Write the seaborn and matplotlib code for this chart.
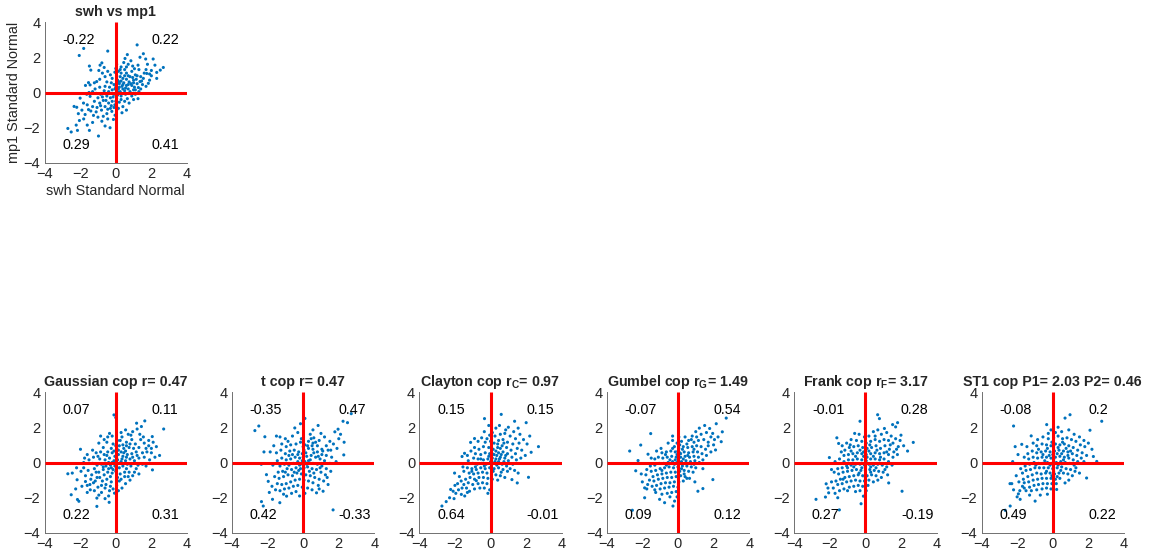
import numpy as np
import matplotlib
matplotlib.use("Agg")
import matplotlib.pyplot as plt
import seaborn as sns

# ---------------------------------------------------------------- data
# standard-normal scores (x, y) for the observed pair and each fitted copula
obs_swh_mp1 = [
    (1.2, 2.7), (-1.8, 2.5), (-0.45, 2.35), (1.55, 2.2), (-2.05, 2.1), (1.68, 1.9), (1.36, 2.0), (0.65, 2.15),
    (0.52, 1.93), (0.05, 1.6), (0.0, 1.36), (-0.78, 1.68), (-0.88, 1.55), (-0.65, 1.42), (2.1, 1.9), (1.78, 1.6),
    (2.67, 1.42), (2.5, 1.27), (2.3, 1.14), (2.0, 0.95), (1.74, 1.08), (1.55, 0.8), (1.36, 0.62), (1.83, 0.52),
    (1.27, 0.28), (1.0, 0.15), (-1.48, 1.5), (-1.4, 1.27), (-1.53, 0.56), (-1.44, 0.43), (-1.07, 0.62), (-1.16, 0.2),
    (-1.63, -0.1), (-1.44, -0.22), (-2.0, -0.32), (-2.34, -0.79), (-2.19, -0.84), (-1.81, -0.6), (-1.53, -0.97),
    (-1.72, -1.25), (-2.04, -1.59), (-2.22, -1.85), (-2.5, -2.24), (-2.69, -2.04), (-2.15, -2.15), (-1.6, -1.85),
    (-1.48, -2.15), (-0.97, -2.47), (-0.32, -2.0), (-0.78, -1.63), (-0.13, -1.53), (-0.04, -1.29), (-0.22, -1.07),
    (0.2, 0.5), (0.4, 0.8), (0.6, 0.4), (0.8, 0.9), (1.0, 0.7), (0.3, 1.1), (0.5, 1.3), (0.9, 1.2), (1.1, 1.0),
    (1.3, 1.3), (0.7, 0.2), (0.5, 0.1), (0.15, 0.2), (0.35, 0.35), (0.75, 0.6), (1.2, 0.5), (1.4, 0.9), (1.6, 1.1),
    (0.9, 0.4), (0.6, 0.75), (0.25, 0.9), (0.1, 0.7), (0.45, 0.55), (1.05, 0.3), (0.8, 0.05), (1.5, 0.45),
    (1.15, 0.75), (0.95, 1.5), (0.7, 1.6), (0.3, 1.45), (0.15, 1.2), (1.25, 1.55), (1.7, 1.3), (2.2, 1.55),
    (1.9, 0.7), (0.55, -0.1), (0.3, -0.2), (0.65, -0.35), (0.9, -0.2), (1.1, -0.1), (1.3, 0.05), (0.1, 0.05),
    (0.0, 0.3), (-0.1, 0.45), (-0.2, 0.8), (-0.3, 1.0), (-0.45, 1.2), (-0.5, 0.6), (-0.35, 0.3), (-0.6, 0.9),
    (-0.75, 1.1), (-0.9, 0.75), (-0.2, 0.15), (-0.1, -0.1), (-0.3, -0.3), (-0.5, -0.2), (-0.7, -0.45),
    (-0.4, -0.6), (-0.2, -0.5), (-0.05, -0.7), (-0.6, -0.8), (-0.9, -0.6), (-1.0, -0.3), (-1.2, -0.5),
    (-0.85, -0.1), (-0.65, 0.1), (-1.3, -0.8), (-1.1, -1.1), (-0.8, -1.0), (-0.5, -1.2), (-0.3, -0.9),
    (-1.0, -1.4), (-0.7, -1.35), (-1.25, -1.3), (-1.4, -1.05), (-1.6, -0.7), (-0.9, 0.3), (-1.3, 0.05),
    (-0.15, -0.25), (0.05, -0.35), (0.2, -0.55), (0.4, -0.8), (0.15, -0.9), (0.5, -0.5), (0.6, -1.0),
    (0.35, -1.15), (0.05, -1.0), (-0.45, -1.5), (-0.6, -1.9), (-1.3, -1.7), (-1.8, -1.5), (-1.9, -1.0),
    (-2.1, -1.2), (-1.1, -0.05), (0.05, 0.95), (-0.05, 1.15), (0.45, 1.7), (0.85, 1.8), (1.05, 1.35),
    (0.6, 1.1), (0.2, 0.6), (0.7, 0.95), (0.4, 0.2), (0.95, 0.85), (1.2, 0.95), (1.45, 0.65), (1.7, 0.35),
    (1.0, -0.4), (0.75, -0.6), (1.25, -0.35), (0.25, 0.05), (0.55, 0.25), (-0.25, 0.55), (-0.4, 0.05),
    (-0.55, -0.45), (-0.75, -0.25), (-0.25, -0.75), (0.1, -0.15), (0.3, 0.65), (0.85, 0.5), (1.1, 0.15),
    (-1.5, 0.0), (-1.2, 0.55), (-1.7, 0.4), (-0.95, 1.25), (2.3, 0.8), (2.0, 1.25), (1.9, 1.05), (0.0, -0.5),
    (-0.1, -0.85), (0.05, -0.15), (0.25, 1.3), (0.6, 1.45), (1.4, 0.2), (0.5, 0.95), (1.0, 0.55), (0.4, 0.45),
    (-0.05, 0.2), (0.7, 0.45), (-0.6, 0.35), (-0.35, -0.05), (-0.85, -0.75), (-1.05, -0.85), (-0.45, -0.95),
    (0.3, -0.4), (0.2, 0.3),
]

gaussian_pts = [
    (-0.1, 2.7), (0.0, 2.55), (1.63, 2.36), (2.69, 1.9), (1.17, 2.23), (1.44, 2.04), (1.2, 1.9), (0.55, 1.85),
    (0.3, 1.7), (-0.35, 1.65), (-0.2, 1.5), (-0.45, 1.45), (0.7, 1.6), (0.95, 1.75), (1.35, 1.6), (2.05, 1.47),
    (1.85, 1.25), (1.6, 1.1), (2.28, 0.9), (2.0, 0.8), (1.75, 0.6), (2.46, 0.4), (2.2, 0.3), (1.9, 0.15),
    (2.06, -0.42), (1.5, 0.55), (1.3, 0.85), (1.1, 1.05), (0.9, 1.3), (0.6, 1.15), (0.4, 1.0), (0.2, 0.95),
    (0.05, 0.8), (-0.15, 1.05), (-0.5, 1.15), (-0.7, 0.85), (-0.95, 1.1), (-1.1, 0.55), (-1.3, 0.7),
    (-1.6, 0.45), (-1.98, 0.75), (-1.5, 0.15), (-1.8, 0.0), (-2.44, -0.6), (-2.69, -0.64), (-2.17, -0.98),
    (-2.5, -1.83), (-2.07, -2.2), (-2.15, -2.1), (-1.06, -2.49), (-0.37, -2.26), (-0.07, -1.74), (-1.06, -2.02),
    (-1.43, -1.55), (-1.7, -1.08), (-1.9, -1.35), (-1.6, -1.3), (-1.25, -1.15), (-1.0, -1.4), (-0.8, -1.7),
    (-0.6, -1.45), (-0.4, -1.9), (-0.15, -1.5), (0.05, -1.3), (0.2, -1.05), (0.35, -1.45), (0.1, -0.85),
    (-0.25, -1.1), (-0.5, -0.95), (-0.75, -1.05), (-1.05, -0.85), (-1.35, -0.7), (-1.55, -0.45), (-1.2, -0.35),
    (-0.95, -0.55), (-0.7, -0.4), (-0.45, -0.55), (-0.2, -0.6), (0.0, -0.5), (0.25, -0.65), (0.5, -0.8),
    (0.75, -0.55), (0.95, -0.75), (1.15, -0.35), (0.85, -0.2), (0.6, -0.35), (0.4, -0.2), (0.2, -0.3),
    (-0.05, -0.2), (-0.3, -0.15), (-0.55, -0.2), (-0.8, -0.1), (-1.05, -0.15), (-1.3, -0.05), (-0.9, 0.2),
    (-0.6, 0.15), (-0.35, 0.25), (-0.1, 0.1), (0.1, 0.15), (0.3, 0.05), (0.55, 0.1), (0.8, 0.2), (1.05, 0.1),
    (1.3, 0.25), (1.5, -0.1), (1.25, -0.15), (0.15, 0.45), (0.4, 0.35), (0.65, 0.45), (0.9, 0.5), (1.15, 0.6),
    (0.55, 0.65), (0.3, 0.6), (0.05, 0.5), (-0.2, 0.55), (-0.45, 0.6), (-0.65, 0.45), (-0.85, 0.6),
    (-0.25, 0.8), (0.75, 0.85), (1.0, 0.8), (0.45, 0.8), (0.8, 1.05), (1.4, 1.3), (0.25, 1.25), (-0.05, 0.35),
    (0.2, -0.05), (0.65, -0.1), (-0.15, -0.4), (-0.4, -0.35), (-0.65, -0.7), (-0.9, -0.85), (-0.3, -0.8),
    (0.05, -1.0), (0.3, -0.95), (-0.55, -1.25), (-0.8, -1.3), (-1.15, -1.05), (-1.4, -0.95), (-1.7, -0.75),
    (-1.45, -1.25), (-1.2, -1.6), (-0.95, -1.85), (-0.6, -2.05), (-0.3, -1.35), (0.15, -1.6), (0.55, -1.2),
    (0.8, -1.0), (1.05, -0.55), (1.3, -0.65), (1.7, -0.2), (1.6, 0.3), (2.0, 0.55), (1.85, 0.95), (1.55, 1.45),
    (0.85, 1.55), (0.1, 1.25), (-0.65, 1.3), (-0.85, 1.5), (-1.0, 0.35), (-1.25, 0.3), (-1.75, 0.25),
    (-2.2, -0.3), (-1.95, -0.5), (-1.8, -0.3), (0.35, 0.2), (0.6, 0.3), (0.95, 0.3), (0.5, -0.55), (0.7, -0.8),
    (-0.2, 0.0), (0.0, -0.05), (0.15, 0.7), (0.6, 0.95), (1.2, 0.4), (-0.4, 0.0), (-0.7, -0.25), (-1.1, -0.55),
    (-0.25, -0.3), (0.05, 0.25), (0.45, 0.55), (1.7, 0.8), (2.1, 1.15), (-0.5, 0.4), (-0.1, 0.65), (0.35, 1.45),
    (0.0, 0.95), (-0.35, -1.6), (-1.6, -1.7), (-2.25, -1.5),
]

t_pts = [
    (2.7, 2.77), (2.24, 2.34), (2.49, 2.26), (-2.49, 2.07), (-2.71, 1.81), (-2.15, 1.46), (0.1, 2.5), (0.84, 2.1),
    (-0.47, 1.96), (1.78, 1.74), (1.96, 1.89), (2.1, 1.6), (2.28, 0.43), (1.4, -1.25), (1.68, -2.69),
    (-2.34, -2.22), (-2.24, -2.47), (-1.72, -2.09), (-1.31, -2.28), (-0.93, -1.91), (-2.06, -0.69),
    (-1.96, -1.07), (0.75, -1.72), (1.12, -1.63),
    (-1.5, 1.5), (-1.3, 1.45), (-1.0, 1.35), (-0.6, 1.5), (-0.3, 1.7), (0.4, 1.6), (0.6, 1.4), (0.9, 1.25),
    (1.2, 1.45), (1.5, 1.2), (1.7, 1.05), (1.9, 0.8), (1.55, 0.7), (1.3, 0.95), (1.05, 0.75), (0.8, 0.95),
    (0.55, 1.1), (0.3, 1.2), (0.1, 1.0), (-0.15, 1.15), (-0.4, 1.05), (-0.7, 1.0), (-0.95, 0.9), (-1.2, 1.05),
    (-1.65, 0.95), (-1.85, 0.6), (-1.5, 0.55), (-1.25, 0.7), (-1.0, 0.5), (-0.75, 0.65), (-0.5, 0.7),
    (-0.25, 0.6), (0.05, 0.7), (0.3, 0.8), (0.55, 0.75), (0.8, 0.6), (1.05, 0.45), (1.3, 0.4), (1.6, 0.3),
    (1.85, 0.05), (1.5, -0.05), (1.2, 0.1), (0.95, 0.2), (0.7, 0.3), (0.45, 0.4), (0.2, 0.35), (0.0, 0.3),
    (-0.2, 0.25), (-0.45, 0.3), (-0.7, 0.2), (-0.95, 0.15), (-1.2, 0.25), (-1.45, 0.1), (-1.7, -0.15),
    (-1.3, -0.2), (-1.05, -0.1), (-0.8, -0.15), (-0.55, -0.05), (-0.3, 0.05), (-0.1, -0.05), (0.1, 0.05),
    (0.3, 0.1), (0.55, -0.05), (0.8, -0.1), (1.05, -0.2), (1.3, -0.35), (1.55, -0.5), (1.25, -0.7),
    (1.0, -0.55), (0.75, -0.4), (0.5, -0.35), (0.25, -0.25), (0.05, -0.3), (-0.15, -0.35), (-0.4, -0.3),
    (-0.65, -0.4), (-0.9, -0.35), (-1.15, -0.5), (-1.4, -0.55), (-1.6, -0.8), (-1.35, -0.9), (-1.1, -0.8),
    (-0.85, -0.7), (-0.6, -0.75), (-0.35, -0.6), (-0.1, -0.65), (0.15, -0.7), (0.4, -0.75), (0.65, -0.85),
    (0.9, -0.95), (1.15, -1.05), (0.85, -1.3), (0.55, -1.15), (0.3, -1.05), (0.05, -1.0), (-0.2, -0.95),
    (-0.45, -1.0), (-0.7, -1.1), (-0.95, -1.2), (-1.2, -1.25), (-1.45, -1.2), (-1.75, -1.35), (-1.55, -1.55),
    (-1.3, -1.6), (-1.05, -1.5), (-0.8, -1.45), (-0.55, -1.35), (-0.3, -1.3), (-0.05, -1.4), (0.25, -1.45),
    (0.5, -1.55), (-0.65, -1.75), (-0.4, -1.65), (-1.1, -1.8), (-0.2, -1.9), (0.1, -1.75), (-0.05, 0.5),
    (0.15, 0.55), (-0.3, 0.45), (0.4, 0.15), (-0.05, 0.1), (0.0, -0.15), (0.2, -0.1), (-0.2, -0.15),
    (0.35, -0.5), (-0.25, -0.45), (0.6, 0.55), (0.85, 0.35), (0.25, 0.95), (-0.6, 0.45), (-0.8, 0.4),
    (-1.0, -0.55), (-0.5, -0.55), (0.6, -0.6), (0.95, -0.3), (1.1, 0.65), (0.7, 1.15), (0.45, 1.35),
    (-0.1, 1.35), (-0.85, 1.2), (0.0, 0.9), (0.5, 0.95), (1.4, 0.7), (2.3, 1.15), (2.0, 1.35), (-0.15, 2.2),
    (0.55, 1.85), (1.0, 1.65), (-2.2, 0.6), (-2.35, -0.1), (-1.9, -1.7), (0.9, -1.5), (1.35, -0.85),
]

clayton_pts = [
    (-0.34, 2.49), (0.6, 2.73), (1.35, 2.34), (2.0, 2.26), (2.69, 0.9), (2.28, 0.58), (2.13, -0.84),
    (1.5, -1.16), (1.2, -0.97), (-0.9, 1.36), (-1.12, 1.14), (-1.46, 0.52), (-1.6, 0.34), (-2.02, -0.6),
    (-2.73, -2.47), (-2.49, -2.22), (-2.24, -1.53), (-2.1, -1.63), (-1.95, -1.75), (-1.64, -1.81),
    (-1.45, -1.9), (-1.18, -1.63), (-0.8, -1.03),
    (-0.1, 2.1), (0.3, 1.95), (0.5, 2.1), (1.0, 2.0), (1.3, 1.75), (1.65, 1.6), (1.85, 1.3), (2.05, 1.05),
    (1.6, 1.1), (1.4, 1.35), (1.1, 1.5), (0.8, 1.65), (0.55, 1.6), (0.25, 1.5), (-0.05, 1.55), (-0.35, 1.75),
    (-0.5, 1.4), (-0.7, 1.2), (-0.3, 1.15), (0.0, 1.2), (0.2, 1.1), (0.45, 1.25), (0.7, 1.3), (0.95, 1.15),
    (1.25, 1.05), (1.5, 0.8), (1.75, 0.7), (1.95, 0.4), (1.7, 0.25), (1.4, 0.5), (1.15, 0.7), (0.9, 0.85),
    (0.65, 0.95), (0.4, 0.85), (0.15, 0.75), (-0.1, 0.85), (-0.4, 0.9), (-0.65, 0.75), (-0.9, 0.85),
    (-1.1, 0.65), (-0.85, 0.5), (-0.55, 0.45), (-0.3, 0.55), (-0.05, 0.5), (0.2, 0.45), (0.45, 0.55),
    (0.7, 0.6), (0.95, 0.5), (1.2, 0.3), (1.45, 0.15), (1.25, -0.1), (1.0, 0.1), (0.8, 0.25), (0.55, 0.3),
    (0.3, 0.2), (0.1, 0.25), (-0.15, 0.2), (-0.4, 0.15), (-0.7, 0.2), (-0.95, 0.25), (-1.25, 0.1),
    (-1.0, -0.05), (-0.75, -0.1), (-0.5, -0.05), (-0.25, -0.1), (0.0, 0.05), (0.2, -0.05), (0.45, 0.05),
    (0.65, -0.1), (0.9, -0.2), (1.1, -0.35), (1.35, -0.45), (1.55, -0.6), (0.95, -0.5), (0.7, -0.4),
    (0.45, -0.3), (0.2, -0.35), (-0.05, -0.3), (-0.3, -0.35), (-0.55, -0.3), (-0.8, -0.4), (-1.05, -0.35),
    (-1.3, -0.3), (-1.5, -0.5), (-1.2, -0.6), (-0.95, -0.65), (-0.7, -0.6), (-0.45, -0.55), (-0.2, -0.6),
    (0.05, -0.65), (0.3, -0.7), (0.55, -0.75), (0.8, -0.85), (0.4, -1.0), (0.1, -0.95), (-0.15, -0.9),
    (-0.4, -0.85), (-0.65, -0.85), (-0.9, -0.95), (-1.15, -0.85), (-1.4, -0.95), (-1.65, -1.05),
    (-1.85, -1.2), (-1.5, -1.25), (-1.25, -1.15), (-1.0, -1.25), (-0.7, -1.2), (-0.45, -1.15), (-0.2, -1.2),
    (0.05, -1.25), (-0.35, -1.45), (-0.6, -1.45), (-0.9, -1.5), (-1.35, -1.45), (-1.6, -1.45), (-1.8, -1.55),
    (-2.0, -1.3), (-1.75, -0.8), (-1.55, -0.25), (-1.3, 0.4), (-0.05, -1.55), (-0.15, -1.75), (0.3, 0.65),
    (0.55, 0.8), (0.35, 0.4), (0.1, 0.5), (0.25, 0.05), (0.5, 0.2), (0.6, 0.45), (-0.1, 0.35), (0.05, -0.1),
    (0.35, -0.15), (0.75, 0.05), (-0.55, 0.2), (-0.35, -0.2), (0.15, -0.5), (0.6, -0.55), (-0.85, -0.25),
    (-1.05, -0.5), (0.85, 0.4), (0.4, 1.05), (0.75, 1.1), (-0.2, 1.35), (0.1, 1.7), (0.85, 1.85), (1.55, 1.95),
    (2.2, 1.5), (-1.3, -1.7), (-2.3, -2.0), (-2.05, -2.05),
]

gumbel_pts = [
    (2.71, 2.52), (2.49, 1.74), (2.15, 2.2), (1.5, 2.1), (1.78, 1.93), (-1.53, 1.64), (-2.09, 0.99),
    (-2.71, 0.65), (-1.68, 0.47), (-2.24, 0.11), (-2.37, -0.47), (-2.06, -0.65), (-1.87, -1.44),
    (-1.75, -1.5), (-2.56, -2.71), (-1.87, -2.0), (-1.03, -2.09), (-0.75, -2.28), (-0.28, -2.47),
    (-0.19, -2.19), (1.12, -1.63), (1.4, -1.48), (1.96, -0.97), (2.11, 0.71), (2.43, 1.18),
    (1.2, 1.95), (1.0, 1.75), (0.8, 1.5), (1.3, 1.6), (1.6, 1.7), (1.85, 1.45), (2.05, 1.3), (1.7, 1.15),
    (1.45, 1.3), (1.15, 1.25), (0.9, 1.15), (0.6, 1.25), (0.4, 1.45), (0.2, 1.2), (-0.05, 1.1), (-0.3, 1.25),
    (-0.55, 1.1), (-0.2, 0.9), (0.05, 0.8), (0.3, 0.9), (0.55, 0.85), (0.8, 0.9), (1.05, 0.95), (1.3, 0.9),
    (1.55, 0.75), (1.85, 0.6), (1.6, 0.4), (1.35, 0.5), (1.1, 0.6), (0.85, 0.6), (0.6, 0.55), (0.35, 0.6),
    (0.1, 0.55), (-0.15, 0.6), (-0.4, 0.65), (-0.65, 0.6), (-0.9, 0.55), (-1.1, 0.3), (-1.3, 0.2),
    (-0.85, 0.25), (-0.6, 0.3), (-0.35, 0.35), (-0.1, 0.3), (0.15, 0.3), (0.4, 0.35), (0.65, 0.3), (0.9, 0.35),
    (1.15, 0.3), (1.4, 0.15), (1.2, 0.0), (0.95, 0.1), (0.7, 0.05), (0.45, 0.1), (0.2, 0.05), (-0.05, 0.0),
    (-0.3, 0.05), (-0.55, 0.0), (-0.8, -0.05), (-1.05, -0.05), (-1.3, -0.15), (-1.55, -0.2), (-1.75, -0.4),
    (-1.5, -0.5), (-1.25, -0.45), (-1.0, -0.35), (-0.75, -0.3), (-0.5, -0.25), (-0.25, -0.3), (0.0, -0.25),
    (0.25, -0.2), (0.5, -0.2), (0.75, -0.25), (1.0, -0.3), (0.85, -0.55), (0.6, -0.5), (0.35, -0.45),
    (0.1, -0.5), (-0.15, -0.55), (-0.4, -0.55), (-0.65, -0.6), (-0.9, -0.65), (-1.15, -0.7), (-1.4, -0.8),
    (-1.6, -1.0), (-1.35, -1.05), (-1.1, -0.95), (-0.85, -0.9), (-0.6, -0.85), (-0.35, -0.85), (-0.1, -0.8),
    (0.15, -0.75), (0.4, -0.8), (0.65, -0.9), (0.3, -1.05), (0.05, -1.1), (-0.2, -1.1), (-0.45, -1.15),
    (-0.7, -1.15), (-0.95, -1.2), (-1.2, -1.3), (-1.45, -1.35), (-1.0, -1.5), (-0.75, -1.45), (-0.5, -1.4),
    (-0.25, -1.35), (0.0, -1.4), (-0.1, -1.65), (-0.35, -1.7), (-0.6, -1.75), (-0.9, -1.8), (-1.25, -1.7),
    (-0.45, -1.95), (-0.05, -1.95), (0.2, -0.35), (-0.05, 0.45), (0.25, 0.75), (0.5, 1.05), (0.75, 1.3),
    (0.1, 1.0), (0.0, 0.65), (0.3, 0.2), (0.55, 0.4), (-0.2, -0.1), (0.05, -0.05), (-0.45, 0.15), (-0.7, 0.45),
    (-0.95, 0.8), (-1.2, 0.65), (-1.5, 0.25), (-0.3, 0.8), (0.9, 0.75), (1.7, 0.95), (2.0, 1.0), (1.95, 1.65),
    (2.25, 1.45), (-1.8, -0.7), (-2.0, -1.1), (-1.7, -1.25), (-1.3, -1.55), (0.35, -0.65), (0.5, -0.9),
    (0.9, -0.1), (-0.3, 1.5), (0.05, 1.45), (-0.15, 0.15), (0.15, 0.5), (0.45, -0.05), (-0.65, -0.15),
    (-0.9, -0.45), (1.05, 1.45), (1.4, -0.35), (0.95, -1.1),
]

frank_pts = [
    (-0.3, 2.34), (0.69, 2.71), (0.79, 2.49), (1.81, 2.26), (1.53, 2.15), (1.7, 2.02), (1.07, 1.93),
    (2.69, 1.14), (2.37, 0.65), (2.06, -1.63), (1.31, -1.16), (-1.6, 1.4), (-1.5, 1.08), (-2.02, 0.28),
    (-2.2, -1.21), (-2.77, -2.09), (-2.24, -1.96), (-2.06, -1.72), (-1.8, -1.45), (-1.46, -2.69),
    (-0.24, -2.34), (-0.11, -1.91), (-1.0, -1.6),
    (-0.6, 1.65), (-0.35, 1.6), (-0.05, 1.45), (0.2, 1.5), (0.45, 1.75), (0.7, 1.85), (0.9, 1.6), (1.2, 1.7),
    (1.45, 1.5), (1.7, 1.35), (1.95, 1.25), (2.15, 0.95), (1.85, 0.9), (1.55, 1.1), (1.3, 1.25), (1.05, 1.3),
    (0.8, 1.2), (0.55, 1.3), (0.3, 1.2), (0.05, 1.1), (-0.2, 1.2), (-0.5, 1.25), (-0.8, 1.3), (-1.05, 1.1),
    (-1.3, 0.95), (-1.15, 0.7), (-0.9, 0.85), (-0.65, 0.9), (-0.4, 0.95), (-0.15, 0.85), (0.1, 0.8),
    (0.35, 0.85), (0.6, 0.95), (0.85, 0.8), (1.1, 0.95), (1.35, 0.75), (1.6, 0.6), (1.8, 0.45), (1.55, 0.3),
    (1.3, 0.45), (1.05, 0.55), (0.8, 0.5), (0.55, 0.55), (0.3, 0.5), (0.05, 0.45), (-0.2, 0.5), (-0.45, 0.55),
    (-0.7, 0.5), (-0.95, 0.45), (-1.2, 0.4), (-1.45, 0.2), (-1.2, 0.05), (-0.95, 0.15), (-0.7, 0.15),
    (-0.45, 0.2), (-0.2, 0.15), (0.05, 0.1), (0.3, 0.2), (0.55, 0.2), (0.8, 0.15), (1.05, 0.2), (1.3, 0.05),
    (1.5, -0.15), (1.2, -0.25), (0.95, -0.15), (0.7, -0.1), (0.45, -0.15), (0.2, -0.1), (-0.05, -0.15),
    (-0.3, -0.1), (-0.55, -0.1), (-0.8, -0.15), (-1.05, -0.2), (-1.3, -0.3), (-1.55, -0.35), (-1.75, -0.55),
    (-1.5, -0.65), (-1.25, -0.55), (-1.0, -0.5), (-0.75, -0.45), (-0.5, -0.4), (-0.25, -0.45), (0.0, -0.45),
    (0.25, -0.4), (0.5, -0.45), (0.75, -0.5), (1.0, -0.55), (1.25, -0.7), (0.9, -0.85), (0.6, -0.75),
    (0.35, -0.7), (0.1, -0.75), (-0.15, -0.75), (-0.4, -0.7), (-0.65, -0.75), (-0.9, -0.8), (-1.15, -0.85),
    (-1.4, -0.95), (-1.65, -1.05), (-1.9, -1.1), (-1.55, -1.25), (-1.3, -1.2), (-1.05, -1.1), (-0.8, -1.05),
    (-0.55, -1.0), (-0.3, -1.05), (-0.05, -1.05), (0.2, -1.0), (0.45, -1.1), (0.15, -1.3), (-0.15, -1.35),
    (-0.4, -1.3), (-0.65, -1.35), (-0.9, -1.4), (-1.2, -1.5), (-1.45, -1.6), (-1.7, -1.75), (-0.55, -1.65),
    (-0.3, -1.6), (0.05, -1.6), (0.1, 0.3), (-0.1, 0.35), (0.2, 0.65), (0.45, 0.35), (0.65, 0.7), (-0.3, 0.7),
    (-0.55, 0.35), (0.0, -0.3), (0.3, -0.25), (-0.2, -0.3), (0.6, -0.3), (-0.65, -0.25), (-0.35, -0.6),
    (0.0, -0.85), (0.3, -0.55), (1.1, -0.4), (0.85, 0.3), (1.2, 0.6), (0.55, 1.5), (0.25, 1.0), (-0.1, 0.6),
    (-0.8, 0.65), (-1.35, 0.6), (-1.7, 0.05), (-1.9, -0.4), (-1.25, -0.95), (-1.0, -0.3), (1.75, 0.75),
    (2.0, 1.55), (-2.1, -1.45), (-1.55, -2.0), (0.7, -1.0), (-0.85, 1.0), (1.4, 1.0),
]

st1_pts = [
    (-2.2, 2.07), (-0.34, 2.15), (0.97, 2.71), (0.69, 2.52), (2.75, 2.34), (2.09, 1.83), (-1.21, 1.51),
    (-1.74, 1.03), (-2.11, 0.9), (-2.3, -1.2), (-2.39, -2.47), (-2.67, -2.71), (-1.93, -1.78), (-1.83, -2.09),
    (-0.99, -2.19), (0.22, -1.53), (0.69, -1.16), (2.28, 0.34), (2.47, 0.06), (1.9, -0.88), (-2.0, -1.95),
    (-1.85, -1.6), (-1.6, -1.45),
    (-0.1, 1.85), (0.3, 2.0), (0.5, 1.75), (0.9, 1.85), (1.2, 1.6), (1.5, 1.45), (1.75, 1.25), (2.0, 1.1),
    (1.8, 0.9), (1.55, 1.0), (1.3, 1.2), (1.05, 1.3), (0.8, 1.4), (0.55, 1.35), (0.3, 1.5), (0.05, 1.4),
    (-0.25, 1.35), (-0.55, 1.45), (-0.85, 1.3), (-1.1, 1.1), (-0.9, 0.95), (-0.6, 1.05), (-0.35, 1.0),
    (-0.1, 0.95), (0.15, 1.05), (0.4, 1.0), (0.65, 1.05), (0.9, 0.95), (1.15, 0.85), (1.4, 0.7), (1.65, 0.55),
    (1.9, 0.4), (1.6, 0.25), (1.35, 0.4), (1.1, 0.5), (0.85, 0.6), (0.6, 0.65), (0.35, 0.7), (0.1, 0.65),
    (-0.15, 0.6), (-0.4, 0.65), (-0.65, 0.6), (-0.9, 0.55), (-1.15, 0.65), (-1.4, 0.5), (-1.6, 0.3),
    (-1.35, 0.2), (-1.1, 0.3), (-0.85, 0.25), (-0.6, 0.3), (-0.35, 0.3), (-0.1, 0.25), (0.15, 0.3), (0.4, 0.35),
    (0.65, 0.3), (0.9, 0.25), (1.15, 0.15), (1.4, 0.05), (1.2, -0.15), (0.95, -0.05), (0.7, 0.0), (0.45, 0.05),
    (0.2, 0.0), (-0.05, -0.05), (-0.3, 0.0), (-0.55, -0.05), (-0.8, -0.05), (-1.05, 0.0), (-1.3, -0.1),
    (-1.55, -0.2), (-1.8, -0.35), (-1.5, -0.45), (-1.25, -0.4), (-1.0, -0.3), (-0.75, -0.3), (-0.5, -0.3),
    (-0.25, -0.3), (0.0, -0.35), (0.25, -0.3), (0.5, -0.25), (0.75, -0.35), (1.0, -0.4), (1.25, -0.5),
    (1.5, -0.6), (1.1, -0.75), (0.85, -0.65), (0.6, -0.6), (0.35, -0.6), (0.1, -0.65), (-0.15, -0.6),
    (-0.4, -0.6), (-0.65, -0.65), (-0.9, -0.6), (-1.15, -0.7), (-1.4, -0.8), (-1.65, -0.95), (-1.9, -1.1),
    (-1.6, -1.15), (-1.35, -1.1), (-1.1, -1.0), (-0.85, -0.95), (-0.6, -0.9), (-0.35, -0.9), (-0.1, -0.9),
    (0.15, -0.95), (0.4, -0.9), (0.2, -1.2), (-0.05, -1.2), (-0.3, -1.2), (-0.55, -1.2), (-0.8, -1.25),
    (-1.05, -1.3), (-1.3, -1.4), (-1.5, -1.6), (-1.2, -1.6), (-0.9, -1.55), (-0.6, -1.5), (-0.35, -1.45),
    (-0.1, -1.5), (-0.3, -1.8), (-0.7, -1.85), (-1.3, -1.85), (-2.2, -1.55), (-2.05, -0.75), (-2.4, -1.2),
    (0.0, 0.45), (0.25, 0.5), (-0.2, 0.4), (0.5, 0.5), (0.05, 0.15), (0.3, -0.15), (-0.15, -0.15),
    (-0.35, -0.5), (0.05, -0.5), (0.45, -0.45), (-0.55, 0.45), (-0.8, 0.75), (0.75, 0.8), (1.0, 0.65),
    (0.3, 0.85), (-0.3, 0.8), (-0.05, 1.15), (0.55, 1.15), (2.2, 0.75), (1.75, 0.05), (0.9, -1.0),
    (-1.7, -0.6), (-2.25, 0.05), (-1.95, 0.45), (-1.45, 0.9), (-0.05, -0.75), (0.25, -0.8), (0.6, 0.15),
    (-0.45, 0.1), (-0.95, -0.15), (0.85, 0.4), (1.3, -0.3), (-0.25, 1.65), (0.15, 1.7), (-1.7, -1.35),
]

panel_titles = [
    "swh vs mp1",
    "Gaussian cop r= 0.47",
    "t cop r= 0.47",
    r"Clayton cop r$_\mathbf{C}$= 0.97",
    r"Gumbel cop r$_\mathbf{G}$= 1.49",
    r"Frank cop r$_\mathbf{F}$= 3.17",
    "ST1 cop P1= 2.03 P2= 0.46",
]
# quadrant statistics: upper-left, upper-right, lower-left, lower-right
quadrant_labels = [
    ["-0.22", "0.22", "0.29", "0.41"],
    ["0.07", "0.11", "0.22", "0.31"],
    ["-0.35", "0.47", "0.42", "-0.33"],
    ["0.15", "0.15", "0.64", "-0.01"],
    ["-0.07", "0.54", "0.09", "0.12"],
    ["-0.01", "0.28", "0.27", "-0.19"],
    ["-0.08", "0.2", "0.49", "0.22"],
]
panel_points = [obs_swh_mp1, gaussian_pts, t_pts, clayton_pts, gumbel_pts, frank_pts, st1_pts]
axis_ticks = [-4, -2, 0, 2, 4]
x_label = "swh Standard Normal"
y_label = "mp1 Standard Normal"

# ---------------------------------------------------------------- style
sns.set_style("white")
plt.rcParams["font.family"] = ["Liberation Sans", "DejaVu Sans"]
plt.rcParams["mathtext.fontset"] = "custom"
plt.rcParams["mathtext.rm"] = "Liberation Sans"
plt.rcParams["mathtext.it"] = "Liberation Sans:italic"
plt.rcParams["mathtext.bf"] = "Liberation Sans:bold"
plt.rcParams["axes.unicode_minus"] = True

DOT = "#0072BD"
AX_GREY = "#262626"
SPINE_GREY = "#707070"

fig = plt.figure(figsize=(11.52, 5.57), dpi=100)
W, H = 1152.0, 557.0


def make_axes(left_px, top_px, w_px=142.5, h_px=141.0):
    return fig.add_axes([left_px / W, 1 - (top_px + h_px) / H, w_px / W, h_px / H])


def draw_panel(ax, pts, title, quads):
    arr = np.asarray(pts, dtype=float)
    sns.scatterplot(x=arr[:, 0], y=arr[:, 1], ax=ax, s=5, color=DOT,
                    edgecolor="none", linewidth=0, zorder=2)
    ax.plot([-4, 4], [0, 0], color="red", lw=2.2, zorder=3, solid_capstyle="butt")
    ax.plot([0, 0], [-4, 4], color="red", lw=2.2, zorder=3, solid_capstyle="butt")
    ax.set_xlim(-4, 4)
    ax.set_ylim(-4, 4)
    ax.set_xticks(axis_ticks)
    ax.set_yticks(axis_ticks)
    ax.tick_params(direction="in", length=2.5, width=0.6, color=SPINE_GREY,
                   labelcolor=AX_GREY, labelsize=10.5, pad=3)
    for side in ("top", "right"):
        ax.spines[side].set_visible(False)
    for side in ("left", "bottom"):
        ax.spines[side].set_color(SPINE_GREY)
        ax.spines[side].set_linewidth(0.7)
    ax.set_title(title, fontsize=10.25, fontweight="bold", pad=4.2)
    ul, ur, ll, lr = quads
    kw = dict(ha="left", va="center", fontsize=10.3, color="black")
    ax.text(-3, 3, ul, **kw)
    ax.text(2, 3, ur, **kw)
    ax.text(-3, -3, ll, **kw)
    ax.text(2, -3, lr, **kw)
    ax.set_xlabel("")
    ax.set_ylabel("")


# observed pair, upper-left
ax0 = make_axes(44.5, 22.0)
draw_panel(ax0, panel_points[0], panel_titles[0], quadrant_labels[0])
ax0.set_xlabel(x_label, fontsize=10.4, color=AX_GREY, labelpad=2)
ax0.set_ylabel(y_label, fontsize=10.4, color=AX_GREY, labelpad=2)

# fitted copulas, bottom row
for i in range(1, 7):
    ax = make_axes(44.5 + 187.4 * (i - 1), 392.0)
    draw_panel(ax, panel_points[i], panel_titles[i], quadrant_labels[i])

fig.savefig("out.png", dpi=100, facecolor="white")
